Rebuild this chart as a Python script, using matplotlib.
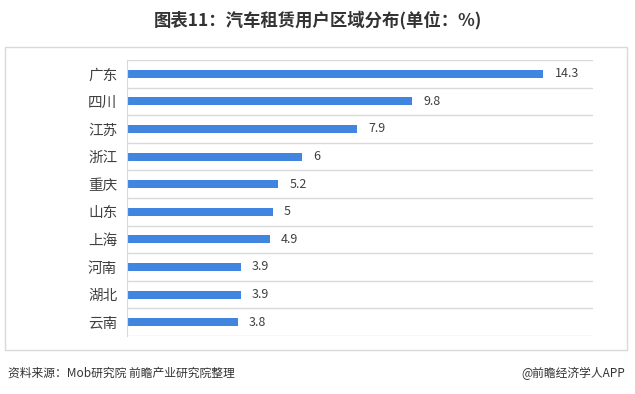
import numpy as np
import matplotlib.pyplot as plt
from matplotlib.patches import Rectangle

plt.rcParams['font.family'] = ['Noto Sans CJK SC', 'DejaVu Sans']

regions = ["广东", "四川", "江苏", "浙江", "重庆", "山东", "上海", "河南", "湖北", "云南"]
shares = [14.3, 9.8, 7.9, 6, 5.2, 5, 4.9, 3.9, 3.9, 3.8]
value_labels = ["14.3", "9.8", "7.9", "6", "5.2", "5", "4.9", "3.9", "3.9", "3.8"]

fig = plt.figure(figsize=(6.35, 3.94), dpi=100)

# outer light frame around the chart
fig.patches.append(Rectangle((5 / 635, 1 - 350 / 394), 622 / 635, 303 / 394,
                             transform=fig.transFigure, fill=False,
                             edgecolor="#d9d9d9", linewidth=1.0))

ax = fig.add_axes([127 / 635, 1 - 336 / 394, (593 - 127) / 635, (336 - 60) / 394])

y = np.arange(len(regions))
ax.barh(y, shares, height=0.29, color="#4086E0")
ax.set_ylim(len(regions) - 0.5, -0.5)
ax.set_xlim(0, 16)

# separator lines between categories
for b in np.arange(-0.5, len(regions), 1.0):
    ax.axhline(b, color="#d9d9d9", linewidth=1.0, zorder=0)

for yi, v, lab in zip(y, shares, value_labels):
    ax.annotate(lab, (v, yi), xytext=(8, 0), textcoords="offset points",
                va="center", ha="left", fontsize=9, color="#404040")

ax.set_yticks(y)
ax.set_yticklabels(regions, fontsize=10.5, color="#404040")
ax.tick_params(axis="y", length=0, pad=7)
ax.set_xticks([])
for s in ["top", "right", "bottom"]:
    ax.spines[s].set_visible(False)
ax.spines["left"].set_color("#d9d9d9")

fig.text(0.5, 1 - 20 / 394, "图表11：汽车租赁用户区域分布(单位：%)", ha="center", va="center",
         fontsize=12.5, fontweight="bold", color="#333333")
fig.text(8 / 635, 1 - 373 / 394, "资料来源：Mob研究院 前瞻产业研究院整理", ha="left", va="center",
         fontsize=8.5, color="#333333")
fig.text(625 / 635, 1 - 373 / 394, "@前瞻经济学人APP", ha="right", va="center",
         fontsize=8.5, color="#333333")

fig.savefig("out.png", dpi=100)
